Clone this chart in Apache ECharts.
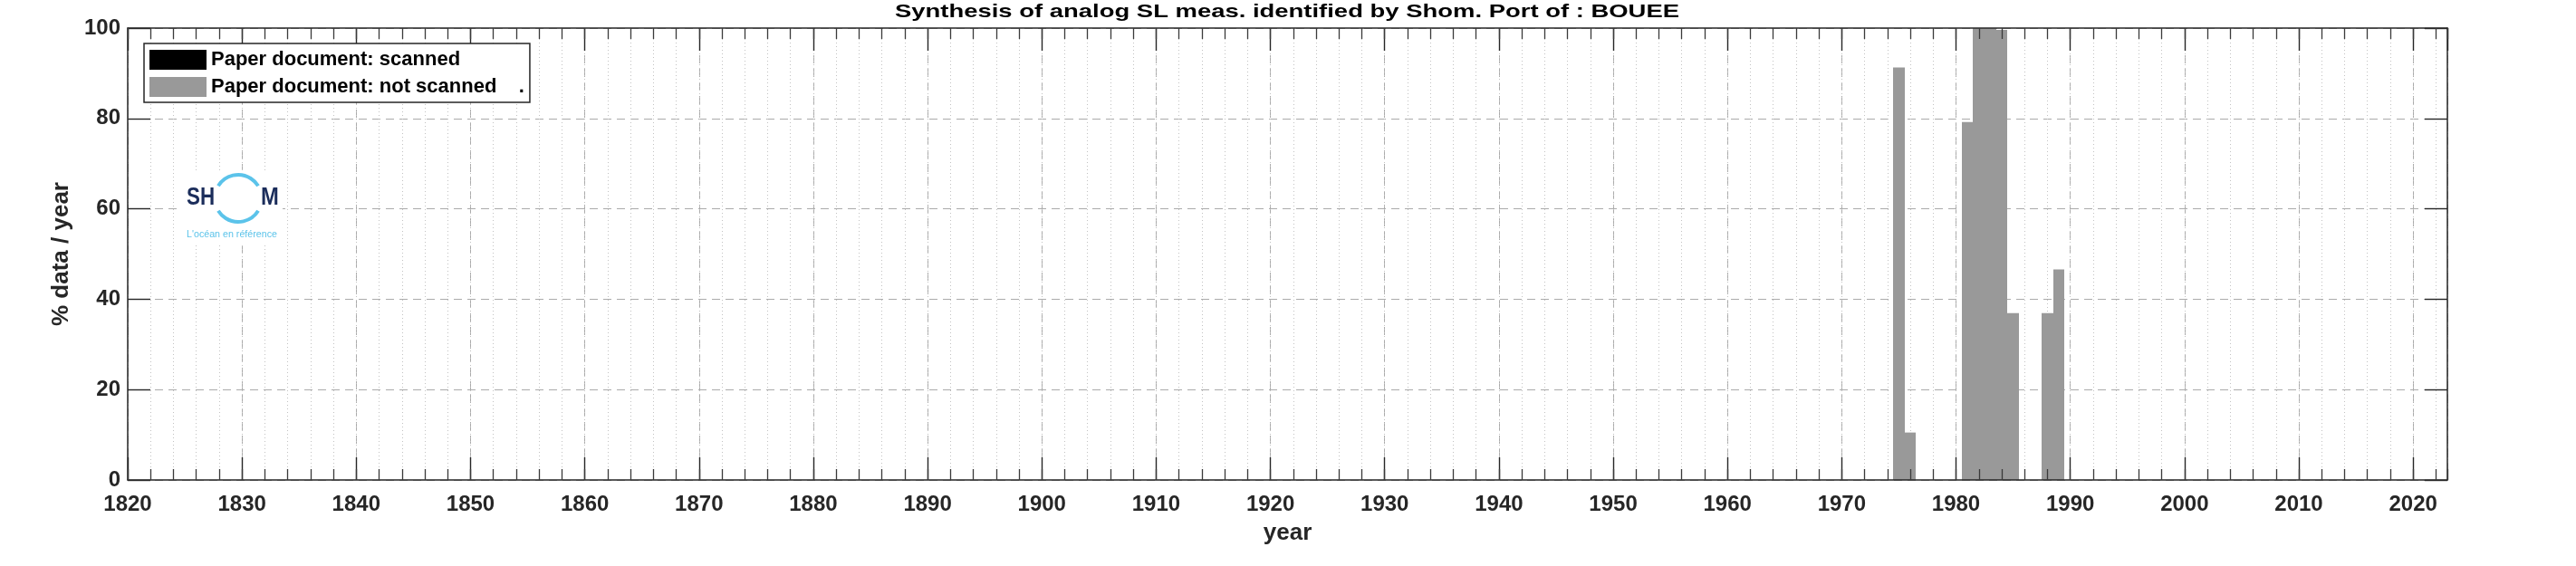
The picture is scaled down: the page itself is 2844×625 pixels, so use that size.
<!DOCTYPE html>
<html>
<head>
<meta charset="utf-8">
<script src="https://cdn.jsdelivr.net/npm/echarts@6/dist/echarts.min.js"></script>
<style>
html,body{margin:0;padding:0;background:#ffffff;}
#chart{width:2844px;height:625px;}
</style>
</head>
<body>
<div id="chart"></div>
<script>
// ---- data ----
const titleText = 'Synthesis of analog SL meas. identified by Shom. Port of : BOUEE';
const legendNames = ['Paper document: scanned', 'Paper document: not scanned    .'];
const years = [1975, 1976, 1981, 1982, 1983, 1984, 1985, 1988, 1989];
const notScanned = [91.3, 10.5, 79.2, 100, 100, 99.6, 36.9, 36.9, 46.6];
const scanned = [0, 0, 0, 0, 0, 0, 0, 0, 0];
const xRange = [1820, 2023];
const xMajorStep = 10;
const xMinorStep = 2;
const yRange = [0, 100];
const yMajorStep = 20;
const xName = 'year';
const yName = '% data / year';
const logoWords = ['SH', 'M', "L'océan en référence"];

// ---- style ----
const FONT = '"Liberation Sans", Arial, Helvetica, sans-serif';
const AX = '#262626';
const GRID = { left: 141, top: 31, width: 2561, height: 499 };

const ctx = document.createElement('canvas').getContext('2d');
ctx.font = 'bold 21px "Liberation Sans"';
const titleScale = 866 / ctx.measureText(titleText).width;

function baseX(extra) {
  return Object.assign({
    type: 'value', min: xRange[0], max: xRange[1], interval: xMajorStep,
    position: 'bottom', z: 5,
    axisLine: { show: false, onZero: false },
    axisTick: { show: false },
    axisLabel: { show: false },
    splitLine: { show: false }
  }, extra);
}
function baseY(extra) {
  return Object.assign({
    type: 'value', min: yRange[0], max: yRange[1], interval: yMajorStep,
    position: 'left', z: 5,
    axisLine: { show: false, onZero: false },
    axisTick: { show: false },
    axisLabel: { show: false },
    splitLine: { show: false }
  }, extra);
}

const xAxes = [
  baseX({
    axisLine: { show: true, onZero: false, lineStyle: { color: AX, width: 1.5 } },
    axisTick: { show: true, inside: true, length: 25, lineStyle: { color: AX, width: 1.4 } },
    axisLabel: {
      show: true, showMaxLabel: false, margin: 15, fontSize: 24, fontWeight: 'bold', fontFamily: FONT, color: AX,
      formatter: v => String(v)
    },
    name: xName, nameLocation: 'middle', nameGap: 46,
    nameTextStyle: { fontSize: 26, fontWeight: 'bold', fontFamily: FONT, color: AX }
  }),
  baseX({
    position: 'top',
    axisLine: { show: true, onZero: false, lineStyle: { color: AX, width: 1.5 } },
    axisTick: { show: true, inside: true, length: 25, lineStyle: { color: AX, width: 1.4 } }
  }),
  baseX({
    interval: xMinorStep,
    axisTick: { show: true, inside: true, length: 12, lineStyle: { color: '#3a3a3a', width: 1.3 } }
  }),
  baseX({
    interval: xMinorStep, position: 'top',
    axisTick: { show: true, inside: true, length: 12, lineStyle: { color: '#3a3a3a', width: 1.3 } }
  }),
  baseX({
    z: 0,
    splitLine: { show: true, lineStyle: { color: '#ababab', width: 1, type: [9, 6] } }
  }),
  baseX({
    z: 0, interval: xMinorStep,
    splitLine: { show: true, lineStyle: { color: '#c2c2c2', width: 1, type: [1, 3] } }
  })
];

const yAxes = [
  baseY({
    axisLabel: { show: true, margin: 8, fontSize: 24, fontWeight: 'bold', fontFamily: FONT, color: AX }
  }),
  baseY({
    axisLine: { show: true, onZero: false, lineStyle: { color: AX, width: 1.5 } },
    axisTick: { show: true, inside: true, length: 25, lineStyle: { color: AX, width: 1.4 } },
    name: yName, nameLocation: 'middle', nameGap: 60,
    nameTextStyle: { fontSize: 26, fontWeight: 'bold', fontFamily: FONT, color: AX }
  }),
  baseY({
    position: 'right',
    axisLine: { show: true, onZero: false, lineStyle: { color: AX, width: 1.5 } },
    axisTick: { show: true, inside: true, length: 25, lineStyle: { color: AX, width: 1.4 } }
  }),
  baseY({
    z: 0,
    splitLine: { show: true, lineStyle: { color: '#ababab', width: 1, type: [9, 6] } }
  })
];

// one-year-wide bars, edges snapped to whole pixels to avoid seams
function yearBar(color) {
  return function (params, api) {
    const yr = api.value(0), lo = api.value(1), hi = api.value(2);
    if (!(hi > lo)) return null;
    const p0 = api.coord([yr - 0.5, hi]);
    const p1 = api.coord([yr + 0.5, lo]);
    const xa = Math.round(p0[0]), xb = Math.round(p1[0]);
    return {
      type: 'rect',
      shape: { x: xa, y: p0[1], width: xb - xa, height: p1[1] - p0[1] },
      style: { fill: color }
    };
  };
}

const deg = Math.PI / 180;
const option = {
  animation: false,
  backgroundColor: '#ffffff',
  grid: Object.assign({ show: false, containLabel: false }, GRID),
  xAxis: xAxes,
  yAxis: yAxes,
  legend: {
    left: 159, top: 48, orient: 'vertical',
    padding: [7, 6, 6, 6],
    itemWidth: 63, itemHeight: 22, itemGap: 8,
    icon: 'rect',
    selectedMode: false,
    borderColor: AX, borderWidth: 1.5,
    backgroundColor: '#ffffff',
    textStyle: { fontSize: 22, fontWeight: 'bold', fontFamily: FONT, color: '#000000' },
    data: legendNames,
    z: 6
  },
  graphic: [
    {
      type: 'text', x: 1421, y: 13, scaleX: titleScale, z: 10,
      style: {
        text: titleText, x: 0, y: 0,
        align: 'center', verticalAlign: 'middle', textAlign: 'center', textVerticalAlign: 'middle',
        font: 'bold 21px ' + FONT, fill: '#000000'
      }
    },
    { type: 'rect', z: 1, shape: { x: 199, y: 188, width: 113, height: 80 }, style: { fill: '#ffffff' } },
    { type: 'arc', z: 1, shape: { cx: 263, cy: 219, r: 26, startAngle: 212 * deg, endAngle: 328 * deg, clockwise: true },
      style: { stroke: '#5bc3ea', lineWidth: 4, fill: null } },
    { type: 'arc', z: 1, shape: { cx: 263, cy: 219, r: 26, startAngle: 32 * deg, endAngle: 148 * deg, clockwise: true },
      style: { stroke: '#5bc3ea', lineWidth: 4, fill: null } },
    { type: 'text', z: 1, x: 206, y: 218, scaleX: 0.8,
      style: { text: logoWords[0], x: 0, y: 0, align: 'left', verticalAlign: 'middle', textAlign: 'left', textVerticalAlign: 'middle',
        font: 'bold 28px ' + FONT, fill: '#1b2d5b' } },
    { type: 'text', z: 1, x: 288, y: 218, scaleX: 0.85,
      style: { text: logoWords[1], x: 0, y: 0, align: 'left', verticalAlign: 'middle', textAlign: 'left', textVerticalAlign: 'middle',
        font: 'bold 28px ' + FONT, fill: '#1b2d5b' } },
    { type: 'text', z: 1, x: 206, y: 259, scaleX: 0.97,
      style: { text: logoWords[2], x: 0, y: 0, align: 'left', verticalAlign: 'middle', textAlign: 'left', textVerticalAlign: 'middle',
        font: '11px ' + FONT, fill: '#5bc3ea' } }
  ],
  series: [
    {
      name: legendNames[0], type: 'custom', xAxisIndex: 0, yAxisIndex: 0, z: 2,
      itemStyle: { color: '#000000' },
      renderItem: yearBar('#000000'),
      encode: { x: 0, y: [1, 2] },
      data: years.map((y, i) => [y, 0, scanned[i]])
    },
    {
      name: legendNames[1], type: 'custom', xAxisIndex: 0, yAxisIndex: 0, z: 2,
      itemStyle: { color: '#999999' },
      renderItem: yearBar('#999999'),
      encode: { x: 0, y: [1, 2] },
      data: years.map((y, i) => [y, scanned[i], scanned[i] + notScanned[i]])
    }
  ]
};

const chart = echarts.init(document.getElementById('chart'), null, { renderer: 'canvas' });
chart.setOption(option);
</script>
</body>
</html>
